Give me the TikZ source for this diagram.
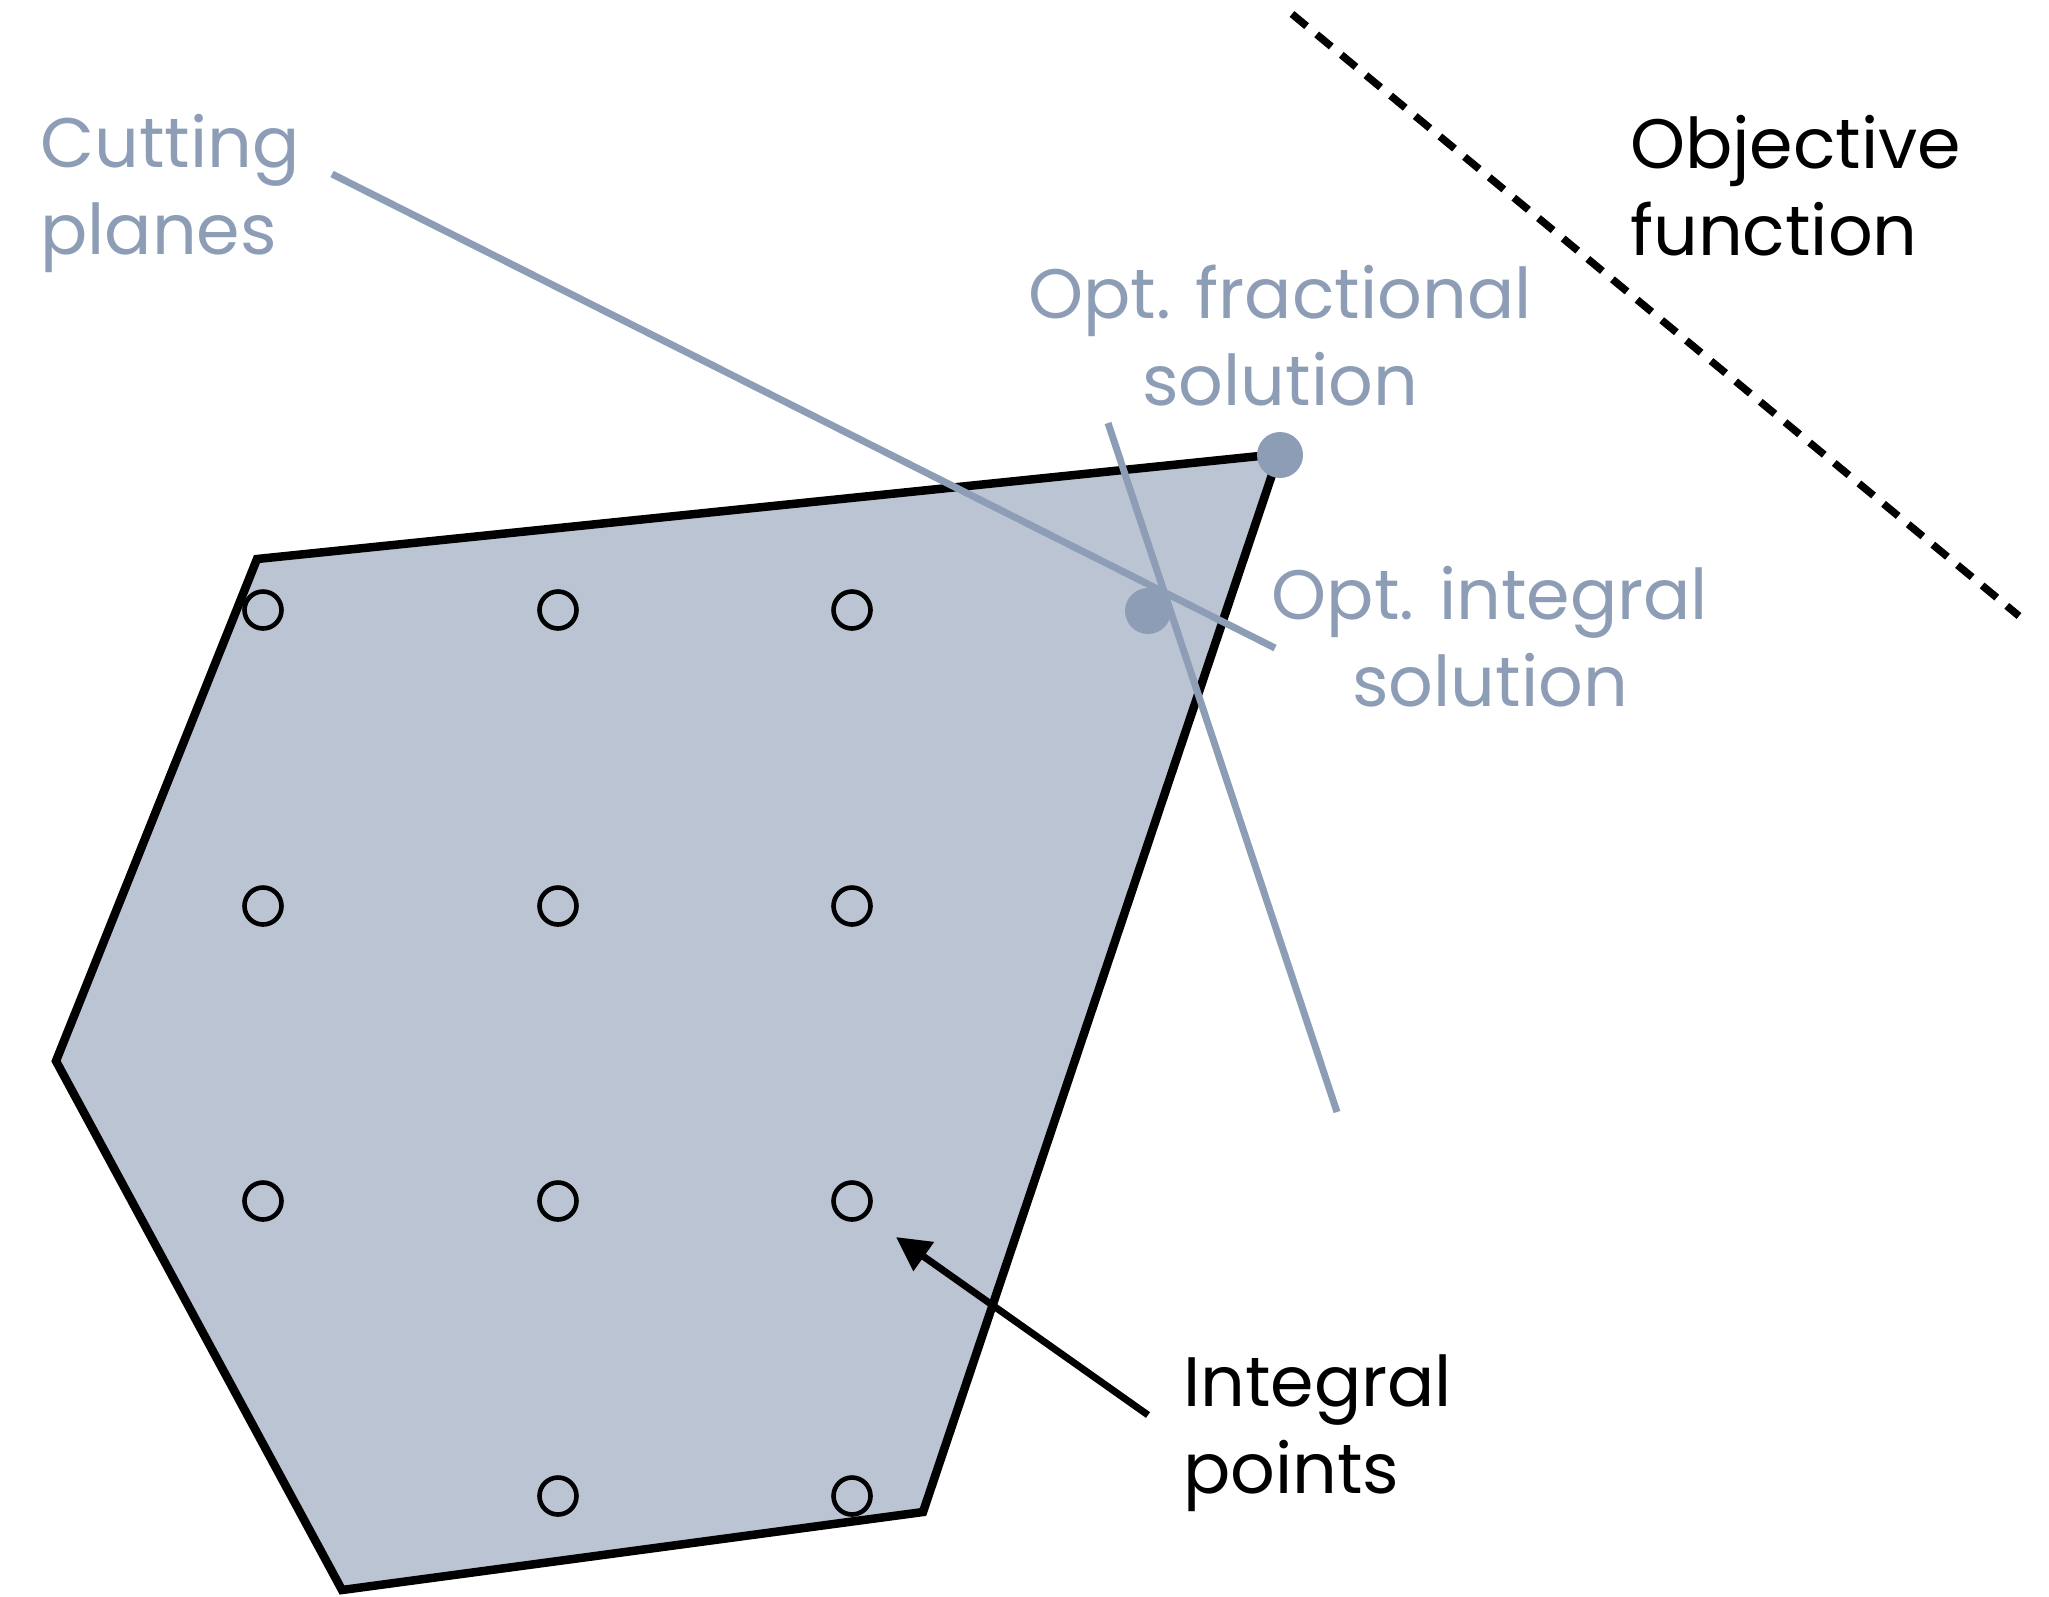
\documentclass[tikz,border=0pt]{standalone}
\usepackage{fontspec}
\setmainfont{Poppins}
\usetikzlibrary{arrows.meta}
\definecolor{polyfill}{RGB}{186,196,211}
\definecolor{cutcol}{RGB}{140,157,181}
\tikzset{
  poly/.style={draw=black, line width=8.5pt, fill=polyfill, line join=miter},
  ipt/.style={circle, draw=black, line width=4.6pt, minimum size=37pt, inner sep=0pt},
  sol/.style={circle, fill=cutcol, minimum size=46pt, inner sep=0pt},
  cutline/.style={draw=cutcol, line width=7pt},
  objline/.style={draw=black, line width=7.5pt, dash pattern=on 19pt off 13pt},
  lbl/.style={font=\fontsize{70}{87}\selectfont, inner sep=0pt, align=left},
  grey lbl/.style={lbl, text=cutcol},
  ptr/.style={draw=black, line width=7pt, -{Triangle[length=34pt,width=34pt]}}
}
\begin{document}
\begin{tikzpicture}[x=1pt,y=-1pt]
\path[use as bounding box] (0,0) rectangle (2049,1596);
% feasible polygon
\coordinate (v1) at (257,559);
\coordinate (v2) at (1279,454);
\coordinate (v3) at (923,1512);
\coordinate (v4) at (342,1590);
\coordinate (v5) at (56,1061);
\draw[poly] (v1) -- (v2) -- (v3) -- (v4) -- (v5) -- cycle;
% integral points
\foreach \r/\y in {1/610,2/906,3/1201}{
  \node[ipt] (p\r a) at (263,\y) {};
  \node[ipt] (p\r b) at (558,\y) {};
  \node[ipt] (p\r c) at (852,\y) {};
}
\node[ipt] (p4b) at (558,1496) {};
\node[ipt] (p4c) at (852,1496) {};
% solutions
\node[sol] (frac) at (1280,455) {};
\node[sol] (intsol) at (1148,611) {};
% cutting planes
\coordinate (c1a) at (332,174);
\coordinate (c1b) at (1275,648);
\coordinate (c2a) at (1108,423);
\coordinate (c2b) at (1337,1112);
\draw[cutline] (c1a) -- (c1b);
\draw[cutline] (c2a) -- (c2b);
% objective function
\coordinate (o1) at (1292,14);
\coordinate (o2) at (2019,616);
\draw[objline] (o1) -- (o2);
% labels
\node[grey lbl, anchor=base west] (lcut) at (40,254) {Cutting\\planes};
\node[lbl, anchor=base west] (lobj) at (1630,255) {Objective\\function};
\node[grey lbl, align=center, anchor=base] (lfrac) at (1280,405) {Opt. fractional\\solution};
\node[grey lbl, align=center, anchor=base] (lint) at (1490,706) {Opt. integral\\solution};
\node[lbl, anchor=base west] (lpts) at (1183,1493) {Integral\\points};
% pointer
\coordinate (atail) at (1148,1415);
\coordinate (ahead) at (896,1237);
\draw[ptr] (atail) -- (ahead);
\end{tikzpicture}
\end{document}
